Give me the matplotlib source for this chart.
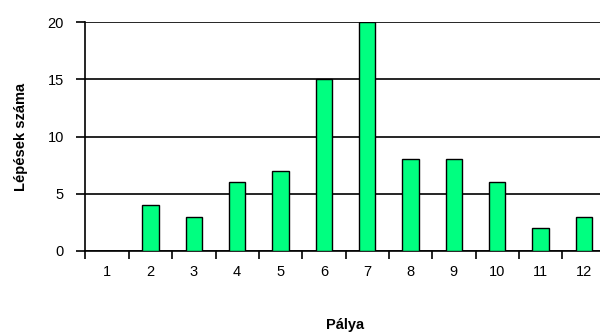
import numpy as np
import matplotlib
matplotlib.use('Agg')
import matplotlib.pyplot as plt

# Data
palya = ['1', '2', '3', '4', '5', '6', '7', '8', '9', '10', '11', '12']
lepesek = [0, 4, 3, 6, 7, 15, 20, 8, 8, 6, 2, 3]

plt.rcParams['font.family'] = ['Liberation Sans', 'DejaVu Sans']

fig = plt.figure(figsize=(6, 3.34), dpi=100)
# axes run slightly past the right edge, as in the reference
ax = fig.add_axes([85.5 / 600, 83 / 334, 520 / 600, 229 / 334])

x = np.arange(len(palya))
ax.set_axisbelow(True)
ax.yaxis.grid(True, color='black', linewidth=1.2)
ax.bar(x, lepesek, width=0.38, color='#00FF80', edgecolor='black', linewidth=1.0, zorder=3)

ax.set_xlim(-0.5, len(palya) - 0.5)
ax.set_ylim(0, 20)
ax.set_yticks([0, 5, 10, 15, 20])

# ticks between categories, labels centred under bars
ax.set_xticks(np.arange(-0.5, len(palya), 1.0))
ax.set_xticklabels([])
ax.set_xticks(x, minor=True)
ax.set_xticklabels(palya, minor=True)
ax.tick_params(axis='x', which='major', direction='out', length=6, width=1.2)
ax.tick_params(axis='x', which='minor', length=0, pad=10, labelsize=10.5)
ax.tick_params(axis='y', direction='out', length=6.5, width=1.2, pad=9, labelsize=10.5)

for s in ['top', 'right']:
    ax.spines[s].set_visible(False)
for s in ['left', 'bottom']:
    ax.spines[s].set_linewidth(1.2)

ax.set_xlabel('Pálya', fontweight='bold', fontsize=10.5, labelpad=28)
ax.set_ylabel('Lépések száma', fontweight='bold', fontsize=10.5, labelpad=14)

fig.savefig('out.png', dpi=100)
